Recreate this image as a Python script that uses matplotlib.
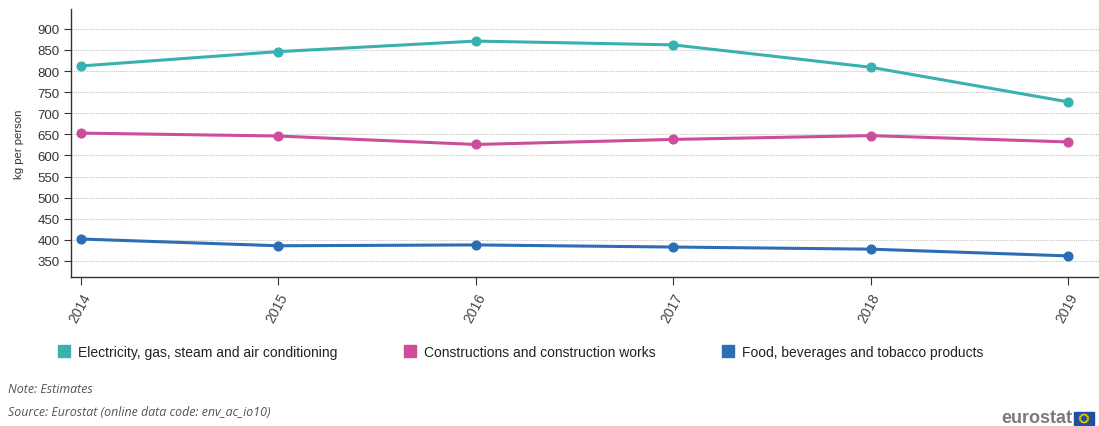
import matplotlib.pyplot as plt
from matplotlib.lines import Line2D
from matplotlib.patches import Rectangle, Circle
import numpy as np

plt.rcParams['font.family'] = ['Liberation Sans', 'DejaVu Sans']

# Emisiones por producto (kg por persona)
anios = [2014, 2015, 2016, 2017, 2018, 2019]
electricidad = [812, 846, 871, 862, 809, 727]
construccion = [653, 646, 626, 638, 647, 632]
alimentos = [402, 386, 388, 383, 378, 362]

series = [
    ('Electricity, gas, steam and air conditioning', electricidad, '#38b2b0'),
    ('Constructions and construction works', construccion, '#cc4d9c'),
    ('Food, beverages and tobacco products', alimentos, '#2d6db5'),
]
ticks_y = list(range(350, 901, 50))

W, H = 1099, 427
fig = plt.figure(figsize=(W / 100, H / 100), dpi=100)
ax = fig.add_axes([71 / W, 1 - 278 / H, 1 - 71 / W, (278 - 10) / H])

for nombre, valores, color in series:
    ax.plot(anios, valores, color=color, lw=2.2, marker='o', ms=6.3,
            solid_capstyle='round', zorder=3)

ax.set_xlim(2013.95, 2019.157)
ax.set_ylim(312, 947)
ax.set_yticks(ticks_y)
ax.set_xticks(anios)
ax.set_xticklabels([str(a) for a in anios], rotation=62, ha='right', va='top',
                   rotation_mode='anchor', fontsize=10, color='#444444')
ax.tick_params(axis='y', labelsize=9.5, labelcolor='#333333', length=5,
               color='#333333', pad=3)
ax.tick_params(axis='x', length=6, color='#333333', pad=4)
ax.set_ylabel('kg per person', fontsize=8.2, color='#333333')
ax.yaxis.set_label_coords(-47 / (W - 71), 0.5)

ax.grid(axis='y', ls=(0, (1, 1)), color='#c4c4c4', lw=0.8, zorder=1)
for lado in ['top', 'right']:
    ax.spines[lado].set_visible(False)
for lado in ['left', 'bottom']:
    ax.spines[lado].set_color('#333333')
    ax.spines[lado].set_linewidth(1)

# Leyenda con cuadrados
handles = [Line2D([], [], ls='none', marker='s', ms=8, color=c) for _, _, c in series]
fig.legend(handles, [s[0] for s in series], loc='center left',
           bbox_to_anchor=(45 / W, 1 - 353 / H), ncol=3, frameon=False,
           fontsize=10, handlelength=1.0, handletextpad=0.5,
           columnspacing=4.7, labelcolor='#222222')

fig.text(8 / W, 1 - 390 / H, 'Note: Estimates', fontsize=8.9, style='italic',
         color='#555555', va='center', family='Open Sans')
fig.text(8 / W, 1 - 413 / H, 'Source: Eurostat (online data code: env_ac_io10)',
         fontsize=8.9, style='italic', color='#555555', va='center', family='Open Sans')

# Logo eurostat
fig.text(1072 / W, 1 - 419 / H, 'eurostat', fontsize=13, fontweight='bold',
         color='#7a7a7a', ha='right', va='center')
fig.patches.append(Rectangle((1074 / W, 1 - 426 / H), 20 / W, 13 / H,
                             transform=fig.transFigure, color='#1f4f9e'))
for ang in np.linspace(0, 2 * np.pi, 12, endpoint=False):
    fig.patches.append(Circle(((1084 + 4 * np.cos(ang)) / W, (1 - 419.5 / H) + 4 * np.sin(ang) / H),
                              0.6 / W, transform=fig.transFigure, color='#e8c800'))

fig.savefig('out.png', dpi=100)
